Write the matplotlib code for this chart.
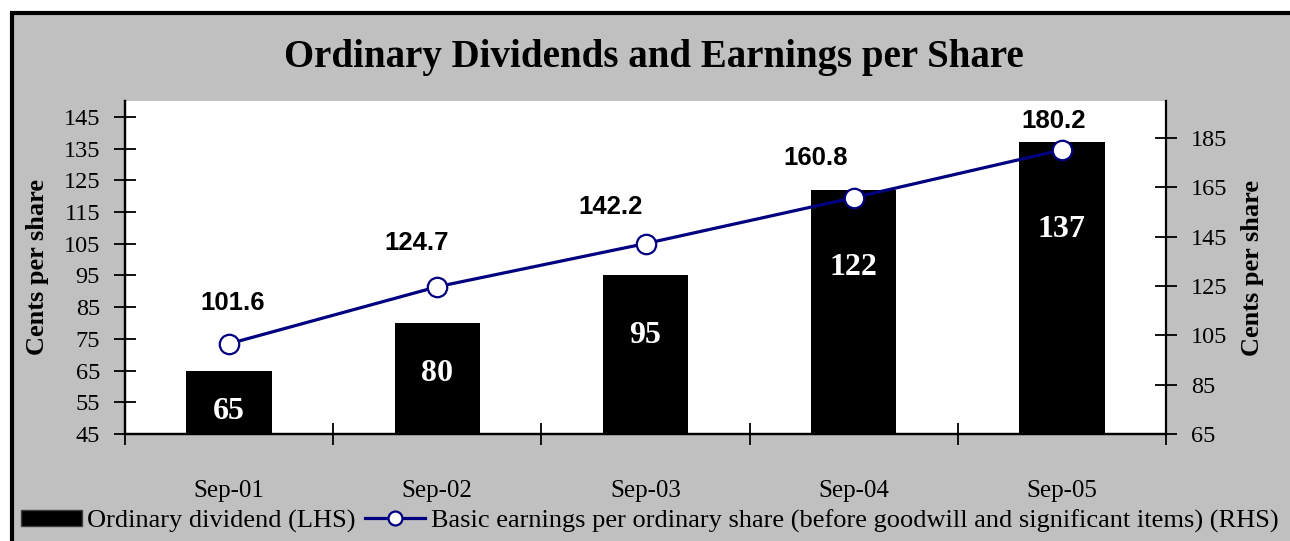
import numpy as np
import matplotlib
matplotlib.use("Agg")
import matplotlib.pyplot as plt
from matplotlib.patches import Rectangle
from matplotlib.lines import Line2D

periods = ["Sep-01", "Sep-02", "Sep-03", "Sep-04", "Sep-05"]
dividend = [65, 80, 95, 122, 137]
eps = [101.6, 124.7, 142.2, 160.8, 180.2]

# where the eps labels sit relative to their points (pixels)
eps_label_offsets = [(4, 41), (-21, 44), (-35, 37), (-38, 40), (-8, 29)]

serif = "Liberation Serif"
sans = "Liberation Sans"
navy = "#000080"
grey = "#C0C0C0"

fig = plt.figure(figsize=(12.9, 5.41), dpi=100)
fig.patch.set_facecolor("white")

# grey chart area with the black top/left edge
fig.patches.append(Rectangle((10 / 1290, 0), 1, 1 - 12 / 541, transform=fig.transFigure,
                             facecolor=grey, edgecolor="none", zorder=-10))
fig.lines.append(Line2D([11.5 / 1290, 11.5 / 1290], [0, 1 - 13 / 541], transform=fig.transFigure,
                        color="black", linewidth=3, solid_capstyle="butt", zorder=-9))
fig.lines.append(Line2D([10 / 1290, 1], [1 - 13 / 541, 1 - 13 / 541], transform=fig.transFigure,
                        color="black", linewidth=3, solid_capstyle="butt", zorder=-9))

ax = fig.add_axes([125 / 1290, 107 / 541, 1041 / 1290, 333 / 541])
ax.set_facecolor("white")
x = np.arange(len(periods))

bars = ax.bar(x, dividend, width=0.41, bottom=0, color="black", zorder=2)
ax.set_ylim(45, 150)
ax.set_xlim(-0.5, len(periods) - 0.5)
ax.set_yticks(np.arange(45, 146, 10))

for xi, v in zip(x, dividend):
    ax.text(xi, v * 0.8, str(v), color="white", ha="center", va="center",
            fontsize=23, fontweight="bold", family=serif, zorder=3)

ax2 = ax.twinx()
ax2.plot(x, eps, color=navy, linewidth=2.3, marker="o", markersize=14,
         markerfacecolor="white", markeredgecolor=navy, markeredgewidth=1.6, zorder=4)
ax2.set_ylim(65, 200)
ax2.set_yticks(np.arange(65, 186, 20))

for xi, v, off in zip(x, eps, eps_label_offsets):
    ax2.annotate(f"{v:.1f}", (xi, v), xytext=off, textcoords="offset pixels",
                 ha="center", va="center", fontsize=18.5, fontweight="bold", family=sans)

# category boundaries as major ticks, names on minor ticks
ax.set_xticks(np.arange(-0.5, len(periods), 1))
ax.set_xticklabels([])
ax.set_xticks(x, minor=True)
ax.set_xticklabels(periods, minor=True, fontsize=18, family=serif)
ax.tick_params(axis="x", which="major", direction="inout", length=16, width=1.3)
ax.tick_params(axis="x", which="minor", length=0, pad=33)

ax.tick_params(axis="y", direction="inout", length=16, width=1.3, pad=10, labelsize=17.5)
ax2.tick_params(axis="y", direction="inout", length=16, width=1.3, pad=10, labelsize=17.5)
for lab in ax.get_yticklabels() + ax2.get_yticklabels():
    lab.set_family(serif)

for a in (ax, ax2):
    a.spines["top"].set_visible(False)
    for s in ("left", "right", "bottom"):
        a.spines[s].set_linewidth(1.6)
ax.spines["right"].set_visible(False)

fig.text(654 / 1290, 1 - 58 / 541, "Ordinary Dividends and Earnings per Share",
         ha="center", va="center", fontsize=28, fontweight="bold", family=serif)
fig.text(38 / 1290, 1 - 267 / 541, "Cents per share", rotation=90, ha="center", va="center",
         fontsize=19, fontweight="bold", family=serif)
fig.text(1253 / 1290, 1 - 268 / 541, "Cents per share", rotation=90, ha="center", va="center",
         fontsize=19, fontweight="bold", family=serif)

handles = [Rectangle((0, 0), 1, 1, facecolor="black", edgecolor="#404040", linewidth=1),
           Line2D([], [], color=navy, linewidth=2.3, marker="o", markersize=10,
                  markerfacecolor="white", markeredgecolor=navy, markeredgewidth=1.6)]
labels = ["Ordinary dividend (LHS)",
          "Basic earnings per ordinary share (before goodwill and significant items) (RHS)"]
fig.legend(handles, labels, loc="center left", bbox_to_anchor=(21 / 1290, 1 - 521 / 541),
           ncol=2, frameon=False, prop={"family": serif, "size": 19},
           handlelength=2.3, handleheight=0.6, handletextpad=0.2, columnspacing=0.35,
           borderpad=0, borderaxespad=0)

fig.savefig("out.png", dpi=100, facecolor=fig.get_facecolor())
